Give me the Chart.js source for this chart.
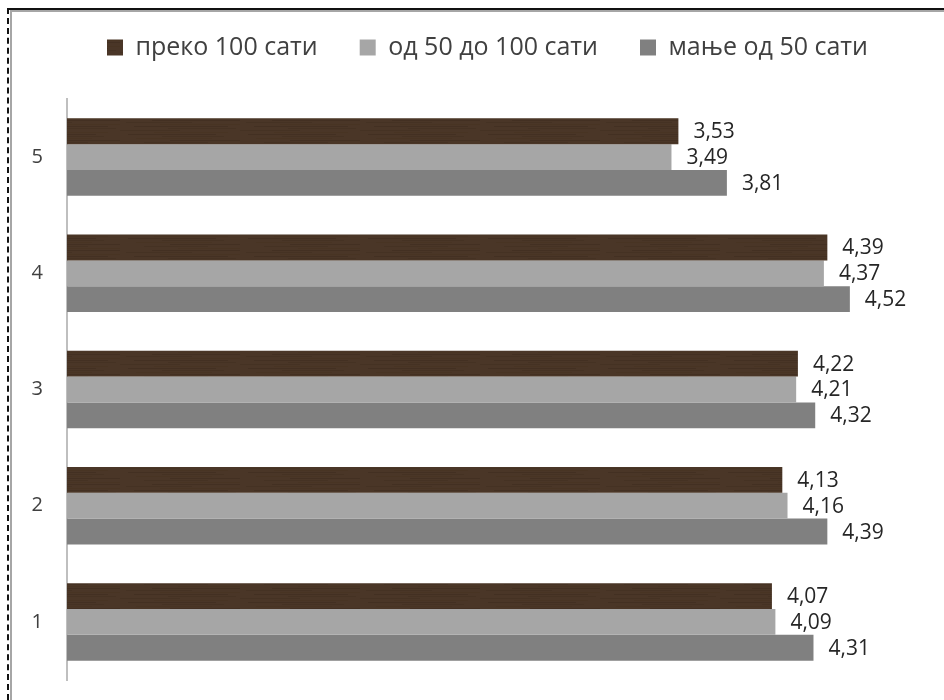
<!DOCTYPE html>
<html>
<head>
<meta charset="utf-8">
<script src="https://cdn.jsdelivr.net/npm/chart.js@4.4.0/dist/chart.umd.min.js"></script>
<style>
  html, body { margin: 0; padding: 0; background: #fff; }
  #wrap { position: relative; width: 944px; height: 700px; }
  #chart { position: absolute; left: 0; top: 0; }
  .ln { position: absolute; }
</style>
</head>
<body>
<div id="wrap">
  <canvas id="chart" width="944" height="700"></canvas>
  <div class="ln" style="left:7px;top:8px;width:937px;height:2px;background:#111"></div>
  <div class="ln" style="left:10px;top:10px;width:934px;height:2px;background:#a6a6a6"></div>
  <div class="ln" style="left:7px;top:8px;width:0;height:692px;border-left:2px dashed #111"></div>
  <div class="ln" style="left:10px;top:10px;width:2px;height:690px;background:#a6a6a6"></div>
</div>
<script>
const categories = ['5', '4', '3', '2', '1']
const seriesNames = ['преко 100 сати', 'од 50 до 100 сати', 'мање од 50 сати']
const over100 = [3.53, 4.39, 4.22, 4.13, 4.07]
const from50to100 = [3.49, 4.37, 4.21, 4.16, 4.09]
const under50 = [3.81, 4.52, 4.32, 4.39, 4.31]

const FONT = "'Open Sans', 'DejaVu Sans', sans-serif"

// wood-like brown fill for the first series
function woodPattern() {
    let c = document.createElement('canvas')
    c.width = 120
    c.height = 26
    let g = c.getContext('2d')
    g.fillStyle = '#4a3627'
    g.fillRect(0, 0, 120, 26)
    const shades = ['#3f2d20', '#55402f', '#45321f', '#5a4433', '#3b2a1d', '#503b2b']
    for (let y = 0; y < 26; y += 2) {
        g.fillStyle = shades[y % shades.length]
        g.globalAlpha = 0.5
        g.fillRect((y * 17) % 60, y, 60 + (y * 7) % 40, 1)
    }
    g.globalAlpha = 1
    return g.createPattern(c, 'repeat')
}

const valueLabels = {
    id: 'valueLabels',
    afterDatasetsDraw(chart) {
        const ctx = chart.ctx
        ctx.save()
        ctx.font = '21px ' + FONT
        ctx.fillStyle = '#262626'
        ctx.textAlign = 'left'
        ctx.textBaseline = 'middle'
        chart.data.datasets.forEach((ds, i) => {
            chart.getDatasetMeta(i).data.forEach((bar, j) => {
                ctx.fillText(ds.data[j].toFixed(2).replace('.', ','), bar.x + 15, bar.y + 1)
            })
        })
        ctx.restore()
    }
}

// legend padding is also used vertically, pull the legend row up a bit
const legendShift = {
    id: 'legendShift',
    afterLayout(chart) {
        chart.legend.top -= 7
        chart.legend.bottom -= 7
        chart.legend.left += 6
        chart.legend.right += 6
    }
}

let ctx = document.getElementById('chart').getContext('2d')
new Chart(ctx, {
    type: 'bar',
    data: {
        labels: categories,
        datasets: [
            { label: seriesNames[0], data: over100, backgroundColor: woodPattern(), borderWidth: 0 },
            { label: seriesNames[1], data: from50to100, backgroundColor: '#a6a6a6', borderWidth: 0 },
            { label: seriesNames[2], data: under50, backgroundColor: '#808080', borderWidth: 0 }
        ]
    },
    options: {
        indexAxis: 'y',
        responsive: false,
        animation: false,
        categoryPercentage: 0.667,
        barPercentage: 1,
        layout: { padding: { left: 30, right: 11, top: 0, bottom: 20 } },
        scales: {
            x: {
                display: false,
                min: 0,
                max: 5
            },
            y: {
                grid: { display: false, drawTicks: false },
                border: { display: true, color: '#bfbfbf', width: 2 },
                ticks: { color: '#404040', padding: 24, font: { size: 20, family: FONT } },
                afterFit(scale) {
                    scale.width = 37
                    // tick padding should not eat vertical space
                    scale.paddingTop = 0
                    scale.paddingBottom = 0
                }
            }
        },
        plugins: {
            legend: {
                position: 'top',
                labels: {
                    boxWidth: 16,
                    boxHeight: 16,
                    padding: 42,
                    color: '#404040',
                    font: { size: 25, family: FONT }
                }
            },
            // empty title used as a spacer between legend and plot
            title: {
                display: true,
                text: ' ',
                weight: 500,
                font: { size: 10 },
                padding: { top: 5, bottom: 5 }
            },
            tooltip: { enabled: false }
        }
    },
    plugins: [valueLabels, legendShift]
})
</script>
</body>
</html>
